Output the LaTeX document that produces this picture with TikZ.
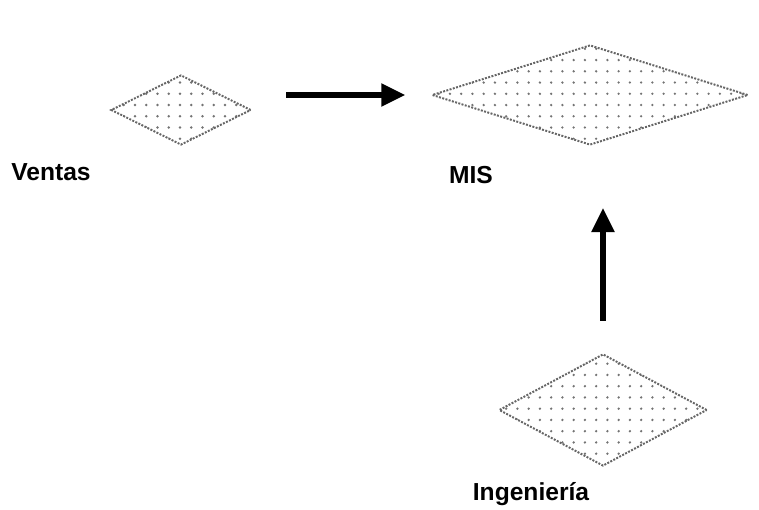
\documentclass[tikz,border=0pt]{standalone}
\usepackage{fontspec}
\setmainfont{Liberation Sans}
\usetikzlibrary{arrows.meta,shapes.geometric,patterns.meta}
\tikzdeclarepattern{
  name=scandots,
  type=uncolored,
  bottom left={(-1pt,-1pt)},
  top right={(9pt,9pt)},
  tile size={(8pt,8pt)},
  code={\fill (0pt,0pt) circle (0.9pt);}
}
\begin{document}
\begin{tikzpicture}[x=0.025cm,y=-0.025cm,
  blob/.style={diamond,inner sep=0pt,draw=black!60,densely dotted,line width=1.4pt,
    pattern={scandots},pattern color=black!55},
  label/.style={font=\fontsize{17.5}{20}\selectfont\bfseries},
  flow/.style={-{Triangle[length=0.6cm,width=0.55cm]},line width=3.6pt}]
\useasboundingbox (0,0) rectangle (759,510);
\node[blob,minimum width=3.5cm,minimum height=1.75cm] (ventas) at (181,110) {};
\node[blob,minimum width=7.9cm,minimum height=2.5cm] (mis) at (590,95) {};
\node[blob,minimum width=5.2cm,minimum height=2.8cm] (ing) at (603,410) {};
\node[label] (lventas) at (51,172) {Ventas};
\node[label] (lmis) at (471,175) {MIS};
\node[label] (ling) at (531,494) {Ingeniería};
\draw[flow,shorten <=0.85cm,shorten >=0.64cm] (ventas.east |- mis.west) -- (mis.west);
\draw[flow,shorten <=0.8cm,shorten >=1.55cm] (ing.north) -- (ing.north |- mis.south);
\end{tikzpicture}
\end{document}
